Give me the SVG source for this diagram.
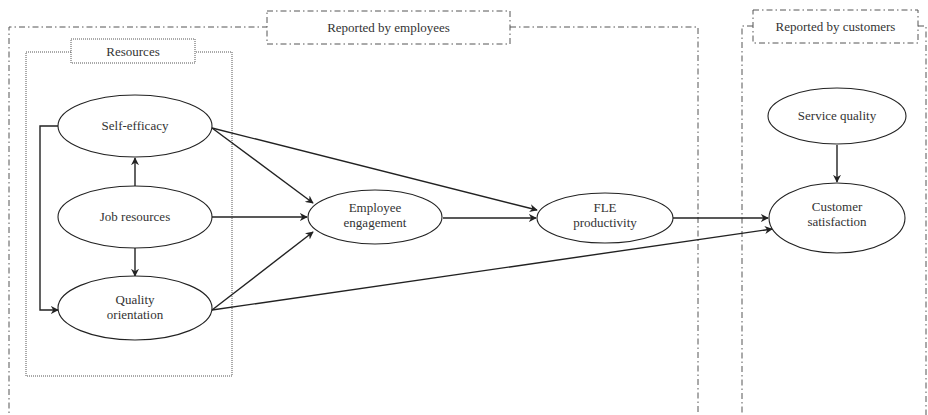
<svg xmlns="http://www.w3.org/2000/svg" width="928" height="415" viewBox="0 0 928 415">
<style>
.t{font-family:'Liberation Serif', 'Times New Roman', Tinos, 'DejaVu Serif', serif;font-size:13px;fill:#333;text-anchor:middle}
.ell{fill:#fff;stroke:#222;stroke-width:1.1}
.dd{fill:none;stroke:#555;stroke-width:1;stroke-dasharray:6,3,1.5,3}
.dot{fill:none;stroke:#555;stroke-width:1;stroke-dasharray:1,1}
.lbl{fill:#fff;stroke:#555;stroke-width:1;stroke-dasharray:6,3,1.5,3}
.lblr{fill:#fff;stroke:#555;stroke-width:1;stroke-dasharray:1,1}
.c{fill:none;stroke:#222;stroke-width:1.4;marker-end:url(#ah)}
</style>
<defs>
<marker id="ah" viewBox="0 0 10 10" refX="9" refY="5" markerWidth="8" markerHeight="8" markerUnits="userSpaceOnUse" orient="auto">
<path d="M0,0 L10,5 L0,10 L3,5 Z" fill="#222"/>
</marker>
</defs>
<g id="groups">
<path class="dd" d="M268,27 H9 V415 M510,27 H698 V415"/>
<path class="dd" d="M753,26 H742 V415 M918,26 H926 V415"/>
<rect class="dot" x="26" y="52" width="206" height="324"/>
</g>
<g class="t" font-family="Liberation Serif, serif">
<g id="label-employees"><rect class="lbl" x="267" y="11" width="243" height="33"/><text x="388.5" y="32">Reported by employees</text></g>
<g id="label-customers"><rect class="lbl" x="753" y="10" width="165" height="33"/><text x="835.5" y="31">Reported by customers</text></g>
<g id="label-resources"><rect class="lblr" x="71" y="39" width="124" height="24"/><text x="133" y="55.5">Resources</text></g>
</g>
<g id="connectors">
<path class="c" d="M58,126 H40 V310 H58"/>
<path class="c" d="M135,186 V158"/>
<path class="c" d="M135,248 V276"/>
<path class="c" d="M212,217 H307"/>
<path class="c" d="M212,128 L313,203"/>
<path class="c" d="M212,128 L537,210"/>
<path class="c" d="M212,310 L313,232"/>
<path class="c" d="M212,310 L772,229"/>
<path class="c" d="M443,218 H536"/>
<path class="c" d="M673,218 H768"/>
<path class="c" d="M837,145 V182"/>
</g>
<g class="t" font-family="Liberation Serif, serif">
<g id="self-efficacy"><ellipse class="ell" cx="135" cy="126" rx="77" ry="31"/><text x="135" y="130">Self-efficacy</text></g>
<g id="job-resources"><ellipse class="ell" cx="135" cy="217" rx="77" ry="31"/><text x="135" y="221">Job resources</text></g>
<g id="quality-orientation"><ellipse class="ell" cx="135" cy="308" rx="77" ry="32"/><text x="135" y="304">Quality</text><text x="135" y="319">orientation</text></g>
<g id="employee-engagement"><ellipse class="ell" cx="375" cy="217" rx="67" ry="27"/><text x="375" y="212">Employee</text><text x="375" y="227">engagement</text></g>
<g id="fle-productivity"><ellipse class="ell" cx="605" cy="218" rx="68" ry="25"/><text x="605" y="212">FLE</text><text x="605" y="227">productivity</text></g>
<g id="service-quality"><ellipse class="ell" cx="837" cy="116" rx="69" ry="28"/><text x="837" y="120">Service quality</text></g>
<g id="customer-satisfaction"><ellipse class="ell" cx="837" cy="218" rx="68" ry="35"/><text x="837" y="211">Customer</text><text x="837" y="226">satisfaction</text></g>
</g>
</svg>
